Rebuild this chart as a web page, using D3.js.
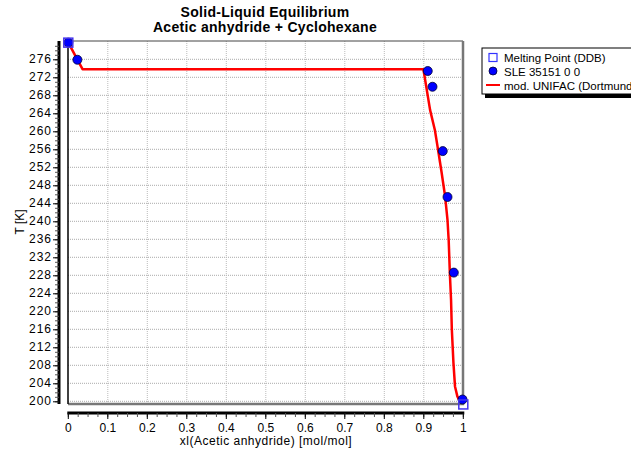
<!DOCTYPE html>
<html>
<head>
<meta charset="utf-8">
<script src="https://cdn.jsdelivr.net/npm/d3@7"></script>
<style>
  body { margin: 0; background: #fff; }
  text { font-family: "Liberation Sans", Arial, sans-serif; }
</style>
</head>
<body>
<div id="chart"></div>
<script>
/* melting points of the pure components (DDB) */
const meltX = [0, 1];
const meltT = [279.7, 199.3];

/* SLE 35151 experimental points */
const sleX = [0.0, 0.023, 0.91, 0.922, 0.948, 0.960, 0.976, 0.998];
const sleT = [279.7, 275.9, 273.4, 269.9, 255.6, 245.4, 228.6, 200.4];

/* mod. UNIFAC (Dortmund) curve */
const unifacX = [0, 0.036, 0.899, 0.916, 0.928, 0.935, 0.945, 0.954, 0.960, 0.963, 0.966, 0.969, 0.971, 0.975, 0.979, 0.985, 0.989];
const unifacT = [279.7, 273.8, 273.8, 264.7, 260.3, 256.5, 250.9, 245.5, 240.3, 235.8, 228.4, 222.5, 215.9, 208.6, 203.3, 201.1, 200.4];

const yTicks = d3.range(200, 277, 4);
const xTicks = d3.range(0, 1.01, 0.1);
const legendLabels = ["Melting Point (DDB)", "SLE 35151 0 0", "mod. UNIFAC (Dortmund)"];

const W = 631, H = 454;
const plot = {left: 68, right: 463, top: 41, bottom: 404};

const x = d3.scaleLinear().domain([0, 1]).range([68.3, 463.3]);
const y = d3.scaleLinear().domain([200, 276]).range([401.3, 59.3]);

const svg = d3.select("#chart").append("svg")
  .attr("width", W)
  .attr("height", H);

/* ---------- grid ---------- */
const grid = svg.append("g");
grid.selectAll("line.gy").data(yTicks).enter().append("line")
  .attr("x1", plot.left).attr("x2", plot.right)
  .attr("y1", d => y(d)).attr("y2", d => y(d))
  .attr("stroke", "#aaa").attr("stroke-width", 1)
  .attr("stroke-dasharray", "1,1");
grid.selectAll("line.gx").data(xTicks.slice(1, -1)).enter().append("line")
  .attr("y1", plot.top).attr("y2", plot.bottom)
  .attr("x1", d => x(d)).attr("x2", d => x(d))
  .attr("stroke", "#bbb").attr("stroke-width", 1)
  .attr("stroke-dasharray", "1,1");

/* ---------- plot frame (with shadow edges) ---------- */
svg.append("line").attr("x1", plot.left).attr("x2", plot.right)
  .attr("y1", plot.top).attr("y2", plot.top)
  .attr("stroke", "#444").attr("stroke-width", 1);
svg.append("line").attr("x1", plot.right).attr("x2", plot.right)
  .attr("y1", plot.top).attr("y2", plot.bottom + 1)
  .attr("stroke", "#777").attr("stroke-width", 2.5);
svg.append("line").attr("x1", plot.left).attr("x2", plot.right + 1)
  .attr("y1", plot.bottom).attr("y2", plot.bottom)
  .attr("stroke", "#777").attr("stroke-width", 2.5);
svg.append("line").attr("x1", plot.left).attr("x2", plot.left)
  .attr("y1", plot.top).attr("y2", plot.bottom)
  .attr("stroke", "#000").attr("stroke-width", 1.5);

/* ---------- y axis (detached, left) ---------- */
const yAxisX = 59;
const yMinor = d3.range(200, 280, 1);
svg.append("line").attr("x1", yAxisX).attr("x2", yAxisX)
  .attr("y1", plot.top).attr("y2", plot.bottom)
  .attr("stroke", "#000").attr("stroke-width", 3);
svg.selectAll("line.ymin").data(yMinor).enter().append("line")
  .attr("x1", yAxisX - 4).attr("x2", yAxisX)
  .attr("y1", d => y(d) + 0.5).attr("y2", d => y(d) + 0.5)
  .attr("stroke", "#555").attr("stroke-width", 1);
svg.selectAll("line.ymaj").data(yTicks).enter().append("line")
  .attr("x1", yAxisX - 6).attr("x2", yAxisX)
  .attr("y1", d => y(d) + 0.5).attr("y2", d => y(d) + 0.5)
  .attr("stroke", "#000").attr("stroke-width", 1);
svg.selectAll("text.ylab").data(yTicks).enter().append("text")
  .attr("x", yAxisX - 7).attr("y", d => y(d) + 4)
  .attr("text-anchor", "end")
  .attr("font-size", 12)
  .attr("letter-spacing", 1)
  .text(d => d);

/* ---------- x axis (detached, below) ---------- */
const xAxisY = 413;
const xMinor = d3.range(0, 1.0001, 0.025);
svg.append("line").attr("x1", x(0) - 1).attr("x2", x(1) + 1)
  .attr("y1", xAxisY).attr("y2", xAxisY)
  .attr("stroke", "#000").attr("stroke-width", 3);
svg.selectAll("line.xmin").data(xMinor).enter().append("line")
  .attr("x1", d => x(d)).attr("x2", d => x(d))
  .attr("y1", xAxisY).attr("y2", xAxisY + 4)
  .attr("stroke", "#555").attr("stroke-width", 1);
svg.selectAll("line.xmaj").data(xTicks).enter().append("line")
  .attr("x1", d => x(d)).attr("x2", d => x(d))
  .attr("y1", xAxisY).attr("y2", xAxisY + 6)
  .attr("stroke", "#000").attr("stroke-width", 1);
svg.selectAll("text.xlab").data(xTicks).enter().append("text")
  .attr("x", d => x(d)).attr("y", 432)
  .attr("text-anchor", "middle")
  .attr("font-size", 12)
  .text(d => d3.format("~g")(+d.toFixed(1)));

/* ---------- axis titles and chart title ---------- */
svg.append("text").attr("x", 266).attr("y", 445)
  .attr("text-anchor", "middle").attr("font-size", 12)
  .attr("letter-spacing", 0.5)
  .text("xl(Acetic anhydride) [mol/mol]");
svg.append("text")
  .attr("transform", "translate(24,222) rotate(-90)")
  .attr("text-anchor", "middle").attr("font-size", 12)
  .text("T [K]");
svg.append("text").attr("x", 265).attr("y", 17)
  .attr("text-anchor", "middle").attr("font-size", 14)
  .attr("font-weight", "bold").attr("letter-spacing", 0.3)
  .text("Solid-Liquid Equilibrium");
svg.append("text").attr("x", 265).attr("y", 32)
  .attr("text-anchor", "middle").attr("font-size", 14)
  .attr("font-weight", "bold").attr("letter-spacing", 0.3)
  .text("Acetic anhydride + Cyclohexane");

/* ---------- data ---------- */
const unifac = unifacX.map((d, i) => [d, unifacT[i]]);
svg.append("path")
  .datum(unifac)
  .attr("fill", "none")
  .attr("stroke", "#f00")
  .attr("stroke-width", 2.5)
  .attr("stroke-linejoin", "round")
  .attr("d", d3.line().x(d => x(d[0])).y(d => y(d[1])));

svg.selectAll("circle.sle").data(sleX.map((d, i) => [d, sleT[i]])).enter().append("circle")
  .attr("cx", d => x(d[0])).attr("cy", d => y(d[1]))
  .attr("r", 4.5)
  .attr("fill", "#0000ff")
  .attr("stroke", "#000033").attr("stroke-width", 0.8);

svg.selectAll("rect.melt").data(meltX.map((d, i) => [d, meltT[i]])).enter().append("rect")
  .attr("x", d => x(d[0]) - 4.5).attr("y", d => y(d[1]) - 4.5)
  .attr("width", 9).attr("height", 9)
  .attr("fill", "none")
  .attr("stroke", "#4433ee").attr("stroke-width", 1.5);

/* ---------- legend (runs past the right edge, as in the original) ---------- */
const lg = svg.append("g").attr("transform", "translate(482,48)");
lg.append("rect").attr("x", 3).attr("y", 3).attr("width", 165).attr("height", 47)
  .attr("fill", "#000");
lg.append("rect").attr("x", 0).attr("y", 0).attr("width", 165).attr("height", 46)
  .attr("fill", "#fff").attr("stroke", "#000").attr("stroke-width", 1);
lg.append("rect").attr("x", 7).attr("y", 5.5).attr("width", 8).attr("height", 8)
  .attr("fill", "none").attr("stroke", "#3333ff").attr("stroke-width", 1.2);
lg.append("circle").attr("cx", 11).attr("cy", 23).attr("r", 4)
  .attr("fill", "#0000ff").attr("stroke", "#000033").attr("stroke-width", 0.8);
lg.append("line").attr("x1", 4).attr("x2", 18).attr("y1", 37).attr("y2", 37)
  .attr("stroke", "#f00").attr("stroke-width", 2);
lg.selectAll("text").data(legendLabels).enter().append("text")
  .attr("x", 22).attr("y", (d, i) => 13.5 + i * 14)
  .attr("font-size", 11.5)
  .text(d => d);
</script>
</body>
</html>
